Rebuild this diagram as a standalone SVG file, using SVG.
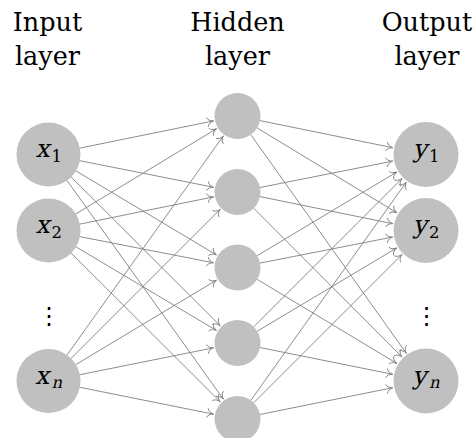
<svg xmlns="http://www.w3.org/2000/svg" width="475" height="438" viewBox="0 0 475 438">
  <defs>
    <style>
      text { font-family: 'DejaVu Serif', serif; fill: #000; }
      .title { font-size: 25.5px; text-anchor: middle; }
      .var { font-size: 25px; text-anchor: start; }
      .idx { font-size: 16.5px; text-anchor: start; }
      .vdots { font-family: 'DejaVu Sans', sans-serif; font-size: 24px; text-anchor: middle; }
      .neuron { fill: #c0c0c0; stroke: none; }
      .edge { stroke: #808080; stroke-width: 0.9; fill: none; marker-end: url(#to); }
    </style>
    <!-- open "to"-style arrow tip, tip at the origin -->
    <marker id="to" viewBox="-8 -6 10 12" markerWidth="10" markerHeight="12" refX="0" refY="0" orient="auto" markerUnits="userSpaceOnUse" overflow="visible">
      <path d="M -6.2,-4.3 C -5.6,-1.8 -2.6,-0.5 0,0 C -2.6,0.5 -5.6,1.8 -6.2,4.3" fill="none" stroke="#808080" stroke-width="0.9" stroke-linecap="round"/>
    </marker>
  </defs>

  <!-- layer titles -->
  <g id="titles">
    <text class="title" x="47.5" y="31">Input</text>
    <text class="title" x="47.5" y="65">layer</text>
    <text class="title" x="237.5" y="31">Hidden</text>
    <text class="title" x="237.5" y="65">layer</text>
    <text class="title" x="427" y="31">Output</text>
    <text class="title" x="427" y="65">layer</text>
  </g>

  <!-- connections: input to hidden, hidden to output -->
  <g id="connectors">
    <line class="edge" x1="79.86" y1="148.11" x2="213.49" y2="120.89"/>
    <line class="edge" x1="79.89" y1="160.73" x2="213.47" y2="187.23"/>
    <line class="edge" x1="75.97" y1="170.92" x2="216.47" y2="254.93"/>
    <line class="edge" x1="71.16" y1="177.10" x2="220.15" y2="325.70"/>
    <line class="edge" x1="67.10" y1="180.54" x2="223.26" y2="399.07"/>

    <line class="edge" x1="75.87" y1="213.92" x2="216.55" y2="128.69"/>
    <line class="edge" x1="79.86" y1="224.11" x2="213.49" y2="196.89"/>
    <line class="edge" x1="79.90" y1="236.65" x2="213.46" y2="262.79"/>
    <line class="edge" x1="76.00" y1="246.87" x2="216.45" y2="330.47"/>
    <line class="edge" x1="71.16" y1="253.10" x2="220.15" y2="401.70"/>

    <line class="edge" x1="67.08" y1="354.95" x2="223.27" y2="135.95"/>
    <line class="edge" x1="71.13" y1="358.37" x2="220.18" y2="209.32"/>
    <line class="edge" x1="75.93" y1="364.53" x2="216.50" y2="280.11"/>
    <line class="edge" x1="79.87" y1="374.69" x2="213.48" y2="347.83"/>
    <line class="edge" x1="79.87" y1="387.31" x2="213.48" y2="414.17"/>

    <line class="edge" x1="260.03" y1="120.60" x2="392.69" y2="147.70"/>
    <line class="edge" x1="257.16" y1="127.94" x2="396.94" y2="212.85"/>
    <line class="edge" x1="250.83" y1="134.74" x2="406.29" y2="353.29"/>

    <line class="edge" x1="260.06" y1="187.51" x2="392.65" y2="161.13"/>
    <line class="edge" x1="260.03" y1="196.60" x2="392.69" y2="223.70"/>
    <line class="edge" x1="253.74" y1="208.29" x2="401.99" y2="356.93"/>

    <line class="edge" x1="257.23" y1="255.67" x2="396.84" y2="171.98"/>
    <line class="edge" x1="260.07" y1="263.07" x2="392.64" y2="237.05"/>
    <line class="edge" x1="257.20" y1="279.36" x2="396.87" y2="363.46"/>

    <line class="edge" x1="253.76" y1="326.74" x2="401.96" y2="178.54"/>
    <line class="edge" x1="257.25" y1="331.21" x2="396.80" y2="247.92"/>
    <line class="edge" x1="260.05" y1="347.55" x2="392.67" y2="374.28"/>

    <line class="edge" x1="250.85" y1="400.27" x2="406.27" y2="182.19"/>
    <line class="edge" x1="253.76" y1="402.74" x2="401.96" y2="254.54"/>
    <line class="edge" x1="260.05" y1="414.45" x2="392.67" y2="387.72"/>
  </g>

  <!-- input layer (variables slanted, numeric indices upright) -->
  <g id="x1">
    <circle class="neuron" cx="48.5" cy="154.5" r="32"/>
    <text class="var" transform="translate(35.5,157) skewX(-13)">x</text>
    <text class="idx" x="51.5" y="161.5">1</text>
  </g>
  <g id="x2">
    <circle class="neuron" cx="48.5" cy="230.5" r="32"/>
    <text class="var" transform="translate(35.5,233) skewX(-13)">x</text>
    <text class="idx" x="51.5" y="237.5">2</text>
  </g>
  <g id="x-dots">
    <text class="vdots" x="49" y="324">⋮</text>
  </g>
  <g id="xn">
    <circle class="neuron" cx="48.5" cy="381" r="32"/>
    <text class="var" transform="translate(35,383.5) skewX(-13)">x</text>
    <text class="idx" transform="translate(51.5,388) skewX(-13)">n</text>
  </g>

  <!-- hidden layer -->
  <g id="h1"><circle class="neuron" cx="237.5" cy="116" r="23"/></g>
  <g id="h2"><circle class="neuron" cx="237.5" cy="192" r="23"/></g>
  <g id="h3"><circle class="neuron" cx="237.5" cy="267.5" r="23"/></g>
  <g id="h4"><circle class="neuron" cx="237.5" cy="343" r="23"/></g>
  <g id="h5"><circle class="neuron" cx="237.5" cy="419" r="23"/></g>

  <!-- output layer -->
  <g id="y1">
    <circle class="neuron" cx="426" cy="154.5" r="32.5"/>
    <text class="var" transform="translate(413,157) skewX(-13)">y</text>
    <text class="idx" x="429" y="161.5">1</text>
  </g>
  <g id="y2">
    <circle class="neuron" cx="426" cy="230.5" r="32.5"/>
    <text class="var" transform="translate(413,233) skewX(-13)">y</text>
    <text class="idx" x="429" y="237.5">2</text>
  </g>
  <g id="y-dots">
    <text class="vdots" x="426.5" y="324">⋮</text>
  </g>
  <g id="yn">
    <circle class="neuron" cx="426" cy="381" r="32.5"/>
    <text class="var" transform="translate(412.5,383.5) skewX(-13)">y</text>
    <text class="idx" transform="translate(429,388) skewX(-13)">n</text>
  </g>
</svg>
